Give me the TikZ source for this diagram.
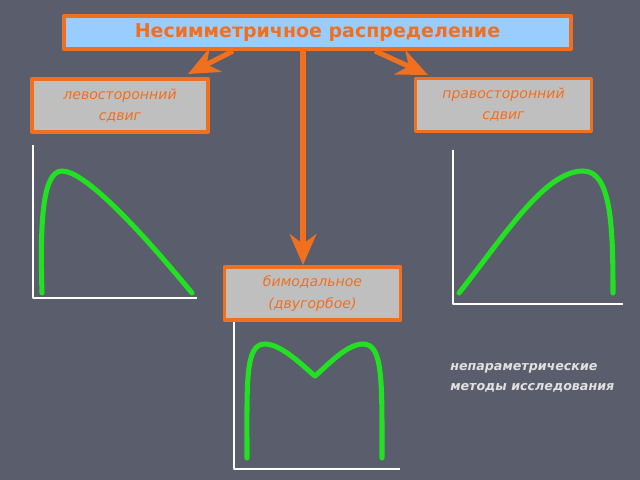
\documentclass[tikz,border=0pt]{standalone}
\usepackage{fontspec}
\setmainfont{DejaVu Sans}
\usetikzlibrary{arrows.meta}

\definecolor{bg}{RGB}{90,93,107}
\definecolor{org}{RGB}{240,112,32}
\definecolor{sky}{RGB}{153,204,255}
\definecolor{grn}{RGB}{34,224,34}

\begin{document}
\begin{tikzpicture}[x=0.025cm,y=-0.025cm,
                    >={Stealth[length=22pt,width=19pt,inset=7pt]},line join=round]
  \tikzstyle{box}=[draw=org,line width=2.8pt,fill=black!25,text=org,align=center,
                   font=\itshape\fontsize{10}{15}\selectfont,inner sep=0pt,
                   minimum width=4.4cm,minimum height=1.325cm]
  \tikzstyle{arr}=[->,draw=org,line width=3.6pt]
  \tikzstyle{axis}=[draw=white,line width=1.4pt]
  \tikzstyle{curve}=[draw=grn,line width=3.6pt,line cap=round]

  \fill[bg] (0,0) rectangle (640,480);

  % axes
  \draw[axis] (33,145) -- (33,298) -- (197,298);
  \draw[axis] (453,150) -- (453,304) -- (623,304);
  \draw[axis] (234,315) -- (234,469) -- (400,469);

  % curves
  \draw[curve] (42,293) .. controls (40,225) and (42,171) .. (62,171)
               .. controls (85,171) and (140,230) .. (192,293);
  \draw[curve] (459,293) .. controls (505,235) and (545,171) .. (583,171)
               .. controls (611,171) and (613,225) .. (613,293);
  \draw[curve] (247,458) .. controls (247,380) and (245,344) .. (265,344)
               .. controls (282,344) and (305,368) .. (315,376)
               .. controls (325,368) and (346,344) .. (363,344)
               .. controls (383,344) and (382,380) .. (382,458);

  % boxes
  \node[box,fill=sky,minimum width=12.675cm,minimum height=0.825cm,
        font=\bfseries\fontsize{13.5}{16}\selectfont] (title) at (317.5,32.5)
        {Несимметричное распределение};
  \node[box] (left)  at (120,105.5)   {левосторонний\\сдвиг};
  \node[box] (right) at (503.5,105)   {правосторонний\\сдвиг};
  \node[box] (bimod) at (312.5,293.5) {бимодальное\\(двугорбое)};

  \node[text=black!12,align=left,anchor=north west,inner sep=0pt,
        font=\bfseries\itshape\fontsize{9}{14.5}\selectfont] (nonpar) at (450,363)
        {непараметрические\\методы исследования};

  % arrows
  \coordinate (l1) at (233,51);  \coordinate (l2) at (188,74);
  \coordinate (r1) at (375,51);  \coordinate (r2) at (428,75);
  \draw[arr] (l1) -- (l2);
  \draw[arr] (r1) -- (r2);
  \draw[arr] (title.south -| 303,0) -- (bimod.north -| 303,0);
\end{tikzpicture}
\end{document}
